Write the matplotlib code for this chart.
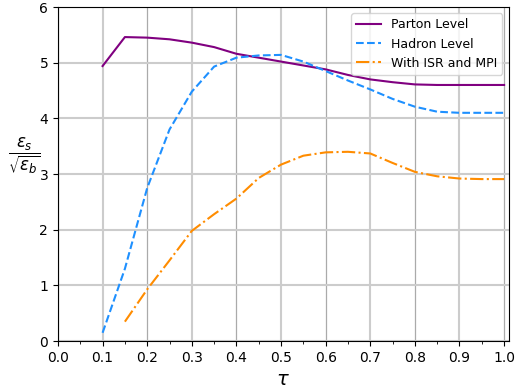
import numpy as np
import matplotlib
matplotlib.use("Agg")
import matplotlib.pyplot as plt
from matplotlib.ticker import MultipleLocator

# tau values (step 0.05)
tau = [0.10, 0.15, 0.20, 0.25, 0.30, 0.35, 0.40, 0.45, 0.50, 0.55,
       0.60, 0.65, 0.70, 0.75, 0.80, 0.85, 0.90, 0.95, 1.00]

parton = [4.94, 5.46, 5.45, 5.42, 5.36, 5.28, 5.16, 5.09, 5.02, 4.95,
          4.88, 4.78, 4.70, 4.65, 4.61, 4.60, 4.60, 4.60, 4.60]

hadron = [0.15, 1.30, 2.75, 3.80, 4.48, 4.93, 5.09, 5.13, 5.14, 5.02,
          4.85, 4.68, 4.52, 4.35, 4.21, 4.12, 4.10, 4.10, 4.10]

tau_isr = tau[1:]
isr_mpi = [0.35, 0.93, 1.45, 1.98, 2.28, 2.56, 2.93, 3.17, 3.33, 3.39,
           3.40, 3.37, 3.20, 3.04, 2.96, 2.92, 2.91, 2.91]

fig, ax = plt.subplots(figsize=(5.27, 3.89), dpi=100)

ax.plot(tau, parton, '-', color='purple', lw=1.5, label='Parton Level')
ax.plot(tau, hadron, '--', color='dodgerblue', lw=1.5, label='Hadron Level')
ax.plot(tau_isr, isr_mpi, '-.', color='darkorange', lw=1.5, label='With ISR and MPI')

ax.set_xlim(0, 1.01)
ax.set_ylim(0, 6)
ax.xaxis.set_major_locator(MultipleLocator(0.1))
ax.xaxis.set_minor_locator(MultipleLocator(0.05))
ax.yaxis.set_major_locator(MultipleLocator(1))

ax.grid(axis='y', color='#cccccc', lw=1.5)
ax.grid(axis='x', which='major')
# alternate grid styles along x: light/thick at even tenths, darker/thin at odd
for i, gl in enumerate(ax.get_xgridlines()):
    if i % 2 == 0:
        gl.set_color('#cccccc')
        gl.set_linewidth(1.5)
    else:
        gl.set_color('#aaaaaa')
        gl.set_linewidth(0.9)
ax.set_axisbelow(True)

ax.set_xlabel(r'$\tau$', fontsize=14)
ax.set_ylabel(r'$\dfrac{\varepsilon_s}{\sqrt{\varepsilon_b}}$', fontsize=12,
              rotation=0)
ax.yaxis.set_label_coords(-0.075, 0.495)

ax.legend(loc='upper right', fontsize=9)

fig.subplots_adjust(left=0.11, right=0.965, top=0.982, bottom=0.123)
fig.savefig('out.png', dpi=100)
